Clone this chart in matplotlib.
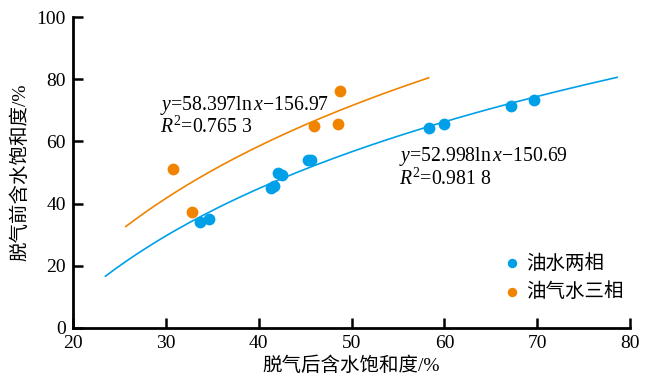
import numpy as np
import matplotlib
matplotlib.use('Agg')
import matplotlib.pyplot as plt

plt.rcParams['font.family'] = ['Liberation Serif', 'Noto Sans CJK SC']
plt.rcParams['mathtext.fontset'] = 'custom'
plt.rcParams['mathtext.rm'] = 'Liberation Serif'
plt.rcParams['mathtext.it'] = 'Liberation Serif:italic'

# 油水两相 data
two_x = [33.7, 34.7, 41.3, 41.6, 42.1, 42.5, 45.3, 45.6, 58.3, 60.0, 67.2, 69.6]
two_y = [34.0, 34.9, 45.0, 45.6, 49.9, 49.1, 53.9, 53.9, 64.4, 65.5, 71.3, 73.2]
# 油气水三相 data
three_x = [30.8, 32.8, 46.0, 48.5, 48.75]
three_y = [51.0, 37.2, 65.1, 65.5, 76.1]

# fitted log curves y = a*ln(x) + b
two_fit = [52.998, -150.69]
two_range = [23.5, 78.6]
three_fit = [58.397, -156.97]
three_range = [25.7, 58.3]

blue = '#00a0e9'
orange = '#f08300'

fig = plt.figure(figsize=(6.51, 3.88), dpi=100)
ax = fig.add_axes([0.112, 0.155, 0.856, 0.801])

xx = np.linspace(two_range[0], two_range[1], 200)
ax.plot(xx, two_fit[0] * np.log(xx) + two_fit[1], color=blue, lw=1.2)
xx = np.linspace(three_range[0], three_range[1], 200)
ax.plot(xx, three_fit[0] * np.log(xx) + three_fit[1], color=orange, lw=1.2)

ax.scatter(two_x, two_y, s=72, color=blue, label='油水两相', zorder=3, linewidths=0)
ax.scatter(three_x, three_y, s=72, color=orange, label='油气水三相', zorder=3, linewidths=0)

eq_size = 14.2
ax.text(29.35, 75.3, r'$y$=58.397ln$\,x$$-$156.97' + '\n' + r'$R^2$=0.765 3',
        fontsize=eq_size, va='top', linespacing=1.0)
ax.text(55.1, 58.8, r'$y$=52.998ln$\,x$$-$150.69' + '\n' + r'$R^2$=0.981 8',
        fontsize=eq_size, va='top', linespacing=1.0)

ax.set_xlim(20, 80)
ax.set_ylim(0, 100)
ax.set_xticks([20, 30, 40, 50, 60, 70, 80])
ax.set_yticks([0, 20, 40, 60, 80, 100])
ax.tick_params(direction='in', length=7, width=1.8, labelsize=14, pad=5)
for s in ['top', 'right']:
    ax.spines[s].set_visible(False)
for s in ['left', 'bottom']:
    ax.spines[s].set_linewidth(2)
ax.set_xlabel('脱气后含水饱和度/%', fontsize=14, labelpad=3)
ax.set_ylabel('脱气前含水饱和度/%', fontsize=14, labelpad=5)

ax.legend(loc='lower left', bbox_to_anchor=(0.735, 0.03), frameon=False,
          fontsize=14, markerscale=0.8, handletextpad=0.15, labelspacing=0.5,
          handlelength=1.2)

fig.savefig('out.png', dpi=100)
